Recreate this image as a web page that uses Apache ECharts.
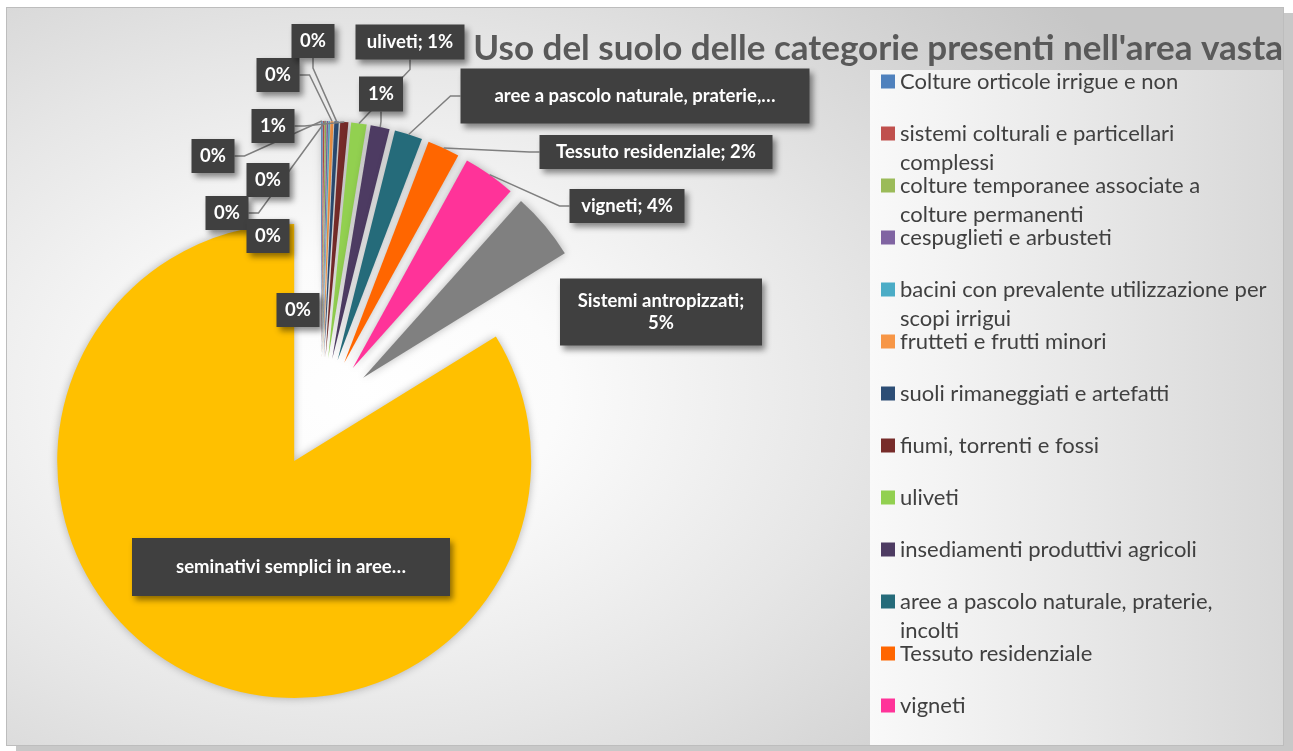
<!DOCTYPE html>
<html><head><meta charset="utf-8">
<script src="https://cdn.jsdelivr.net/npm/echarts@6/dist/echarts.min.js"></script>
<style>
html,body{margin:0;padding:0;background:#fff;width:1293px;height:751px;overflow:hidden}
#bg{position:absolute;left:6px;top:7px;width:1276px;height:737px;border:1px solid #bdbdbd;box-shadow:10px 6px 0 #c8c8c8;
background:radial-gradient(ellipse 70% 85% at 28% 52%, #ffffff 0%, #fbfbfb 22%, #e6e6e6 55%, #c6c6c6 100%);}
#lg{position:absolute;left:870px;top:70px;width:413px;height:675px;background:linear-gradient(to right,#f9f9f9,#d8d8d8);}
#main{position:absolute;left:0;top:0;width:1293px;height:751px}
</style></head><body>
<div id="bg"></div><div id="lg"></div><div id="main"></div>
<script>
// ---- data ----
const categories = [
  'Colture orticole irrigue e non',
  'sistemi colturali e particellari complessi',
  'colture temporanee associate a colture permanenti',
  'cespuglieti e arbusteti',
  'bacini con prevalente utilizzazione per scopi irrigui',
  'frutteti e frutti minori',
  'suoli rimaneggiati e artefatti',
  'fiumi, torrenti e fossi',
  'uliveti',
  'insediamenti produttivi agricoli',
  'aree a pascolo naturale, praterie, incolti',
  'Tessuto residenziale',
  'vigneti',
  'Sistemi antropizzati',
  'seminativi semplici in aree non irrigue'
];
const values = [0.1, 0.1, 0.1, 0.1, 0.1, 0.2, 0.3, 0.55, 1.05, 1.3, 1.9, 2.2, 3.6, 4.6, 83.8];
const colors = ['#4F81BD','#C0504D','#9BBB59','#8064A2','#4BACC6','#F79646','#2C4D75','#772C2A',
  '#92D050','#4D3B62','#256B7A','#FF6600','#FF3399','#808080','#FFC000'];
// label texts: {n} = shown name, {p} = percentage
const labelNames = ['','','','','','','','','uliveti','','aree a pascolo naturale, praterie,…',
  'Tessuto residenziale','vigneti','Sistemi antropizzati','seminativi semplici in aree…'];
const labelFormats = ['{p}','{p}','{p}','{p}','{p}','{p}','{p}','{p}','{n}; {p}','{p}','{n}',
  '{n}; {p}','{n}; {p}','{n};\n{p}','{n}'];
const legendNames = categories.slice(0, 13);
const legendText = {
  'sistemi colturali e particellari complessi': 'sistemi colturali e particellari\ncomplessi',
  'colture temporanee associate a colture permanenti': 'colture temporanee associate a\ncolture permanenti',
  'bacini con prevalente utilizzazione per scopi irrigui': 'bacini con prevalente utilizzazione per\nscopi irrigui',
  'aree a pascolo naturale, praterie, incolti': 'aree a pascolo naturale, praterie,\nincolti'
};
const titleText = "Uso del suolo delle categorie presenti nell'area vasta";

// ---- layout / style (not data) ----
const PIE_C = [321, 413], PIE_R = 237, EXPLODE = 55;
const labelCenters = [[213,156],[268,180],[227,213],[268,236],[298,310],[278,75],[313,41],[273,126],
  [410,42],[381,94],[635,96],[656,152],[627,206],[661,312],[291,567]];
const labelBoxes = [[43,34],[43,34],[43,34],[43,34],[43,34],[43,34],[43,34],[43,34],
  [109,35],[44,35],[349,55],[233,34],[115,34],[202,67],[318,58]];
const labelLineShown = [true,false,true,false,false,true,true,true,true,true,true,true,true,false,false];
const LH = 22, PADH = 4;

const labelText = i => labelFormats[i].replace('{n}', labelNames[i]);

const chart = echarts.init(document.getElementById('main'), null, {renderer:'canvas'});
const pieData = categories.map((c, i) => ({
  name: c, value: values[i], selected: true, itemStyle: {color: colors[i]}
}));
const labelData = categories.map((c, i) => {
  const lines = labelText(i).split('\n').length;
  const [w, h] = labelBoxes[i];
  return {
    name: c, value: values[i],
    label: {width: w - 2 * PADH, padding: [(h - lines * LH) / 2, PADH]},
    labelLine: {show: labelLineShown[i]}
  };
});
chart.setOption({
  animation: false,
  title: {text: titleText, right: 10, top: 31, padding: 0,
    textStyle: {fontFamily:'Lato', fontWeight:'bold', fontSize:35, color:'#595959'}},
  legend: {
    data: legendNames, orient:'vertical', left: 881, top: 38, padding: 0,
    icon: 'rect', itemWidth: 14, itemHeight: 14, itemGap: -35, selectedMode: false,
    formatter: n => {
      const t = (legendText[n] || n).split('\n');
      return ' \n' + t[0] + '\n' + (t[1] || ' ');
    },
    textStyle: {fontFamily:'Lato', fontSize:22, lineHeight:29, color:'#404040'}
  },
  series: [{
    // visible exploded pie
    type: 'pie', center: PIE_C, radius: PIE_R, startAngle: 90, clockwise: true,
    selectedMode: 'multiple', selectedOffset: EXPLODE, z: 2,
    emphasis: {disabled: true}, silent: true,
    itemStyle: {shadowBlur: 9, shadowColor: 'rgba(0,0,0,0.28)'},
    label: {show: false}, labelLine: {show: false},
    data: pieData
  }, {
    // label carrier: same values, outer edge matches the exploded slices' outer arcs
    type: 'pie', center: PIE_C, radius: PIE_R + EXPLODE, startAngle: 90, clockwise: true, z: 3,
    emphasis: {disabled: true}, silent: true, legendHoverLink: false,
    itemStyle: {color: 'rgba(0,0,0,0)', borderWidth: 0},
    label: {
      show: true, position: 'outside', overflow: 'none',
      formatter: p => labelText(p.dataIndex).replace('{p}', Math.round(p.percent) + '%'),
      color:'#ffffff', fontFamily:'Lato', fontWeight:'bold', fontSize:18.5, lineHeight: LH, align:'center',
      backgroundColor:'#404040', shadowBlur:6, shadowOffsetX:3, shadowOffsetY:4, shadowColor:'rgba(0,0,0,0.45)'
    },
    labelLine: {length: 10, length2: 10, lineStyle: {color:'#7f7f7f', width:1.5}},
    labelLayout: p => ({x: labelCenters[p.dataIndex][0], y: labelCenters[p.dataIndex][1], align:'center', verticalAlign:'middle'}),
    data: labelData
  }]
});
</script>
</body></html>
